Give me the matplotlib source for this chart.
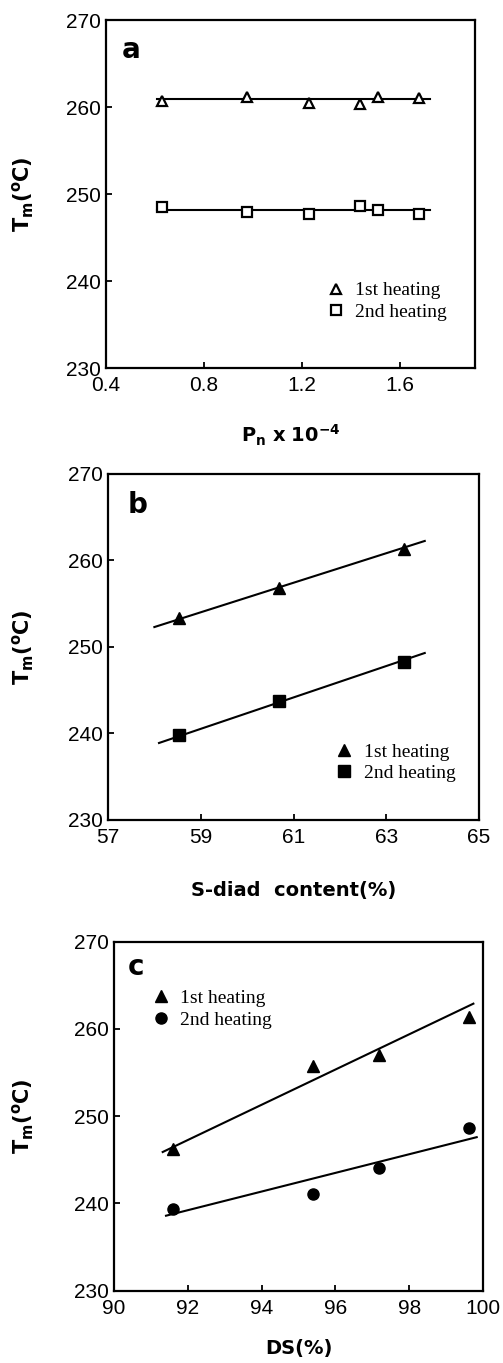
import matplotlib
matplotlib.use("Agg")
from matplotlib import pyplot as plt

plt.rcParams['font.family'] = ['Liberation Sans', 'DejaVu Sans']
plt.rcParams['mathtext.fontset'] = 'dejavusans'

# panel a : Tm vs Pn
pn = [0.63, 0.975, 1.23, 1.437, 1.51, 1.675]
a_first = [260.7, 261.1, 260.5, 260.3, 261.2, 261.0]
a_second = [248.5, 247.9, 247.7, 248.6, 248.2, 247.7]
a_fit_x = [0.61, 1.72]
a_fit_first = [260.9, 260.9]
a_fit_second = [248.2, 248.2]

# panel b : Tm vs S-diad content
sdiad = [58.53, 60.69, 63.39]
b_first = [253.3, 256.8, 261.3]
b_second = [239.8, 243.8, 248.3]
b_fit_x = [58.0, 63.83]
b_fit_first = [252.3, 262.25]
b_fit_x2 = [58.1, 63.83]
b_fit_second = [238.9, 249.3]

# panel c : Tm vs DS
ds = [91.59, 95.4, 97.18, 99.62]
c_first = [246.3, 255.7, 257.0, 261.4]
c_second = [239.4, 241.1, 244.1, 248.6]
c_fit_x = [91.32, 99.74]
c_fit_first = [245.9, 262.9]
c_fit_x2 = [91.41, 99.83]
c_fit_second = [238.6, 247.6]

fig = plt.figure(figsize=(5.03, 13.63), dpi=100)
ax_a = fig.add_axes([0.2107, 0.730, 0.734, 0.2553])
ax_b = fig.add_axes([0.2147, 0.3984, 0.7376, 0.2539])
ax_c = fig.add_axes([0.2266, 0.0530, 0.7336, 0.2561])

legfont = {'family': 'Liberation Serif', 'size': 14}


def style(ax, xlim, xticks, letter, letter_xy, ylab_x):
    ax.set_xlim(*xlim)
    ax.set_ylim(230, 270)
    ax.set_xticks(xticks)
    ax.set_yticks([230, 240, 250, 260, 270])
    ax.tick_params(direction='in', length=4, width=1.3, labelsize=15)
    ax.tick_params(axis='x', pad=6)
    ax.tick_params(axis='y', pad=4)
    for s in ax.spines.values():
        s.set_linewidth(1.6)
    ax.set_ylabel(r'$\mathbf{T_m(^oC)}$', fontsize=15)
    ax.yaxis.set_label_coords(ylab_x, 0.5)
    ax.text(letter_xy[0], letter_xy[1], letter, transform=ax.transAxes, fontsize=20,
            fontweight='bold', family='DejaVu Sans', va='baseline', ha='left')


# a
ax_a.plot(a_fit_x, a_fit_first, color='black', lw=1.5)
ax_a.plot(a_fit_x, a_fit_second, color='black', lw=1.5)
ax_a.plot(pn, a_first, '^', ms=7, mfc='white', mec='black', mew=1.6, label='1st heating')
ax_a.plot(pn, a_second, 's', ms=7, mfc='white', mec='black', mew=1.6, label='2nd heating')
style(ax_a, (0.4, 1.906), [0.4, 0.8, 1.2, 1.6], 'a', (0.043, 0.891), -0.19)
ax_a.set_xticklabels(['0.4', '0.8', '1.2', '1.6'])
ax_a.set_xlabel(r'$\mathbf{P_n\ x\ 10^{-4}}$', fontsize=14, labelpad=20)
ax_a.legend(loc='upper left', bbox_to_anchor=(0.575, 0.27), frameon=False, prop=legfont,
            handletextpad=0.5, labelspacing=0.2, handlelength=1.0, borderaxespad=0)

# b
ax_b.plot(b_fit_x, b_fit_first, color='black', lw=1.5)
ax_b.plot(b_fit_x2, b_fit_second, color='black', lw=1.5)
ax_b.plot(sdiad, b_first, '^', ms=8, color='black', label='1st heating')
ax_b.plot(sdiad, b_second, 's', ms=8, color='black', label='2nd heating')
style(ax_b, (57, 65), [57, 59, 61, 63, 65], 'b', (0.054, 0.887), -0.195)
ax_b.set_xlabel('S-diad  content(%)', fontsize=14, fontweight='bold',
                family='DejaVu Sans', labelpad=24)
ax_b.legend(loc='upper left', bbox_to_anchor=(0.59, 0.245), frameon=False, prop=legfont,
            handletextpad=0.5, labelspacing=0.2, handlelength=1.0, borderaxespad=0)

# c
ax_c.plot(c_fit_x, c_fit_first, color='black', lw=1.5)
ax_c.plot(c_fit_x2, c_fit_second, color='black', lw=1.5)
ax_c.plot(ds, c_first, '^', ms=8, color='black', label='1st heating')
ax_c.plot(ds, c_second, 'o', ms=8, color='black', label='2nd heating')
style(ax_c, (90, 100), [90, 92, 94, 96, 98, 100], 'c', (0.038, 0.905), -0.212)
ax_c.set_xlabel('DS(%)', fontsize=14, fontweight='bold', family='DejaVu Sans', labelpad=15)
ax_c.legend(loc='upper left', bbox_to_anchor=(0.08, 0.885), frameon=False, prop=legfont,
            handletextpad=0.5, labelspacing=0.2, handlelength=1.0, borderaxespad=0)

fig.savefig("out.png", dpi=100)
